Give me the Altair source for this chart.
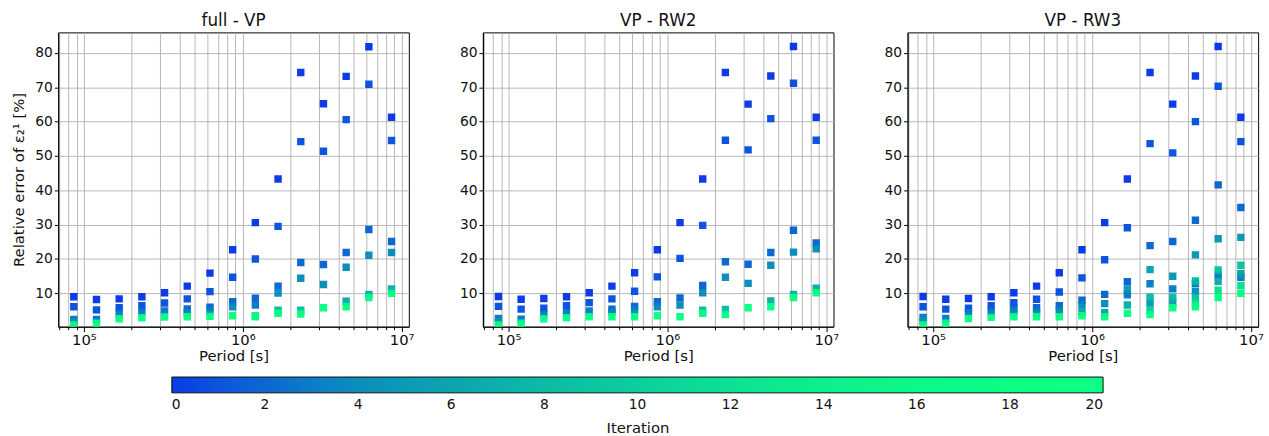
import altair as alt
import pandas as pd

# Periods [s] (1 day ... 100 days)
periods = [86400, 120053, 166812, 231784, 322063, 447504, 621804, 864000,
           1200530, 1668120, 2317840, 3220630, 4475040, 6218040, 8640000]

panel_titles = ["full - VP", "VP - RW2", "VP - RW3"]

p1_vals = [[9.0, 6.1, 2.4, 1.6, 0.8], [8.2, 5.2, 2.4, 1.3], [8.4, 5.8, 4.0, 2.6],
           [9.0, 6.4, 4.6, 2.9], [10.2, 7.2, 4.9, 3.1], [12.1, 8.4, 5.5, 4.4, 3.2],
           [15.9, 10.5, 6.0, 4.8, 3.3], [22.7, 14.7, 7.6, 6.1, 3.5],
           [30.6, 20.0, 8.6, 6.6, 3.4, 3.2], [43.3, 29.5, 12.1, 10.1, 5.1, 4.2],
           [74.3, 54.2, 19.0, 14.4, 5.1, 4.0], [65.2, 51.4, 18.4, 12.6, 5.8],
           [73.2, 60.6, 21.9, 17.6, 7.7, 6.1], [81.8, 70.9, 28.6, 21.1, 9.7, 8.8],
           [61.3, 54.5, 25.1, 21.9, 11.3, 10.0]]
p1_iters = [[0, 1, 3, 5, 20], [0, 1, 3, 20], [0, 1, 3, 20], [0, 1, 3, 20], [0, 1, 3, 20],
            [0, 1, 2, 4, 20], [0, 1, 2, 4, 20], [0, 1, 2, 4, 20], [0, 1, 2, 3, 8, 20],
            [0, 1, 2, 4, 8, 20], [0, 1, 2, 4, 8, 20], [0, 1, 2, 4, 20],
            [0, 1, 2, 4, 7, 20], [0, 1, 2, 4, 7, 20], [0, 1, 2, 4, 7, 20]]

p2_vals = [[9.1, 6.2, 2.7, 1.8, 0.8], [8.3, 5.4, 2.5, 1.3], [8.5, 5.7, 4.0, 2.6],
           [9.0, 6.4, 4.4, 2.9], [10.2, 7.3, 4.9, 3.2], [12.1, 8.4, 5.4, 4.6, 3.2],
           [16.0, 10.6, 6.2, 5.1, 3.2], [22.7, 14.8, 7.6, 6.1, 3.5],
           [30.6, 20.2, 8.7, 6.6, 3.2], [43.3, 29.8, 12.3, 10.2, 5.1, 4.2],
           [74.3, 54.6, 19.2, 14.7, 5.3, 3.8], [65.1, 51.8, 18.5, 12.9, 5.8],
           [73.3, 60.9, 21.9, 18.2, 7.8, 6.1], [81.9, 71.2, 28.4, 22.0, 9.7, 8.8],
           [61.3, 54.6, 24.7, 23.0, 11.5, 10.2]]
p2_iters = [[0, 1, 3, 5, 20], [0, 1, 3, 20], [0, 1, 3, 20], [0, 1, 3, 20], [0, 1, 3, 20],
            [0, 1, 2, 4, 20], [0, 1, 2, 4, 20], [0, 1, 2, 4, 20], [0, 1, 2, 4, 20],
            [0, 1, 2, 4, 8, 20], [0, 1, 2, 4, 8, 20], [0, 1, 2, 4, 20],
            [0, 1, 2, 4, 7, 20], [0, 1, 2, 4, 7, 20], [0, 1, 2, 4, 7, 20]]

p3_vals = [[9.1, 6.1, 3.0, 2.0, 0.8], [8.3, 5.4, 2.7, 1.3], [8.5, 5.7, 4.4, 2.7],
           [9.0, 6.4, 4.6, 3.0], [10.2, 7.3, 5.6, 4.6, 3.2], [12.1, 8.3, 5.8, 4.6, 3.2],
           [16.0, 10.4, 6.4, 5.1, 3.2], [22.7, 14.5, 8.0, 6.6, 4.5, 3.5],
           [30.6, 19.8, 9.7, 7.0, 4.4, 3.2], [43.3, 29.1, 13.4, 11.2, 9.6, 6.6, 4.2],
           [74.3, 53.6, 23.9, 16.9, 12.8, 8.9, 7.2, 5.1, 3.8],
           [65.1, 50.9, 25.1, 15.0, 11.3, 8.9, 7.2, 5.8],
           [73.3, 60.0, 31.3, 21.2, 13.6, 12.9, 10.6, 8.8, 7.0, 6.1],
           [81.9, 70.3, 41.6, 25.9, 16.8, 15.3, 13.5, 10.9, 8.8],
           [61.3, 54.2, 35.0, 26.3, 18.2, 15.7, 14.7, 12.2, 10.0]]
p3_iters = [[0, 1, 3, 5, 20], [0, 1, 3, 20], [0, 1, 3, 20], [0, 1, 3, 20], [0, 1, 2, 4, 20],
            [0, 1, 2, 4, 20], [0, 1, 2, 4, 20], [0, 1, 2, 4, 6, 20], [0, 1, 2, 4, 6, 20],
            [0, 1, 2, 5, 3, 7, 20], [0, 1, 2, 6, 3, 8, 5, 10, 20],
            [0, 1, 2, 5, 3, 8, 6, 20], [0, 1, 2, 5, 8, 3, 4, 9, 12, 20],
            [0, 1, 2, 5, 9, 3, 7, 12, 20], [0, 1, 2, 5, 9, 6, 3, 12, 20]]

x_grid_values = [70000, 80000, 90000, 100000, 200000, 300000, 400000, 500000, 600000,
                 700000, 800000, 900000, 1000000, 2000000, 3000000, 4000000, 5000000,
                 6000000, 7000000, 8000000, 9000000, 10000000]
y_tick_values = [10, 20, 30, 40, 50, 60, 70, 80]
cbar_ticks = [0, 2, 4, 6, 8, 10, 12, 14, 16, 18, 20]
cbar_colors = ["#0030e6", "#0060cc", "#0088b8", "#00a0aa", "#00b8a0", "#00cc98",
               "#00e08e", "#00f086", "#00f882", "#00fc80", "#00ff7f"]

rows = []
for title, vals, its in [(panel_titles[0], p1_vals, p1_iters),
                         (panel_titles[1], p2_vals, p2_iters),
                         (panel_titles[2], p3_vals, p3_iters)]:
    for per, vs, it in zip(periods, vals, its):
        for v, i in zip(vs, it):
            rows.append({"panel": title, "period": per, "iteration": i, "value": v})
df = pd.DataFrame(rows).sort_values("iteration", kind="stable")

FONT = "DejaVu Sans"
label_expr = ("abs(log(datum.value)/LN10 - round(log(datum.value)/LN10)) < 0.001 ? "
              "'10' + (round(log(datum.value)/LN10) == 5 ? '⁵' : "
              "(round(log(datum.value)/LN10) == 6 ? '⁶' : '⁷')) : ''")
tick_size_expr = ("abs(log(datum.value)/LN10 - round(log(datum.value)/LN10)) < 0.001 ? 5 : 3")


def panel(title, show_ytitle):
    yaxis_kwargs = dict(values=y_tick_values, grid=True, tickSize=4, labelFontSize=14,
                        titleFontSize=15, titlePadding=8)
    if show_ytitle:
        yaxis = alt.Axis(title="Relative error of ε₂¹ [%]", **yaxis_kwargs)
    else:
        yaxis = alt.Axis(title=None, **yaxis_kwargs)
    return alt.Chart(df[df["panel"] == title]).mark_square(
        size=56, opacity=0.95, clip=True
    ).encode(
        x=alt.X("period:Q",
                scale=alt.Scale(type="log", domain=[69000, 11100000], nice=False),
                axis=alt.Axis(title="Period [s]", values=x_grid_values, labelExpr=label_expr,
                              grid=True, tickSize=alt.ExprRef(expr=tick_size_expr),
                              labelFontSize=15, titleFontSize=15, labelFlush=False,
                              labelOverlap=False, labelPadding=1, titlePadding=1)),
        y=alt.Y("value:Q", scale=alt.Scale(domain=[0.3, 86], nice=False, zero=False),
                axis=yaxis),
        color=alt.Color("iteration:Q",
                        scale=alt.Scale(domain=cbar_ticks, range=cbar_colors),
                        legend=alt.Legend(
                            title="Iteration", orient="none", direction="horizontal",
                            legendX=115, legendY=349,
                            gradientLength=943, gradientThickness=16,
                            titleOrient="bottom", titleAnchor="middle",
                            values=cbar_ticks, labelOverlap=False, labelAlign="center",
                            gradientStrokeColor="black", gradientStrokeWidth=1,
                            labelFontSize=14, titleFontSize=15, titleFontWeight="normal",
                            labelOffset=5, titlePadding=10)),
    ).properties(
        width=355, height=298,
        title=alt.TitleParams(title, fontSize=17, fontWeight="normal", offset=2),
    )


chart = alt.hconcat(
    panel(panel_titles[0], True),
    panel(panel_titles[1], False),
    panel(panel_titles[2], False),
    spacing=44,
).resolve_scale(color="shared").resolve_legend(color="shared").properties(
    padding={"left": 11, "top": 9, "right": 5, "bottom": 5},
    background="white",
).configure_view(
    stroke="black", strokeWidth=1
).configure_axis(
    gridColor="#b0b0b0", gridWidth=0.9, tickColor="black", domainColor="black",
    labelColor="#111111", titleColor="#111111", labelFont=FONT, titleFont=FONT,
    titleFontWeight="normal"
).configure_legend(
    labelFont=FONT, titleFont=FONT, labelColor="#111111", titleColor="#111111"
).configure_title(
    font=FONT, color="#111111"
)

chart.save("out.html", embed_options={"renderer": "svg", "actions": False})
